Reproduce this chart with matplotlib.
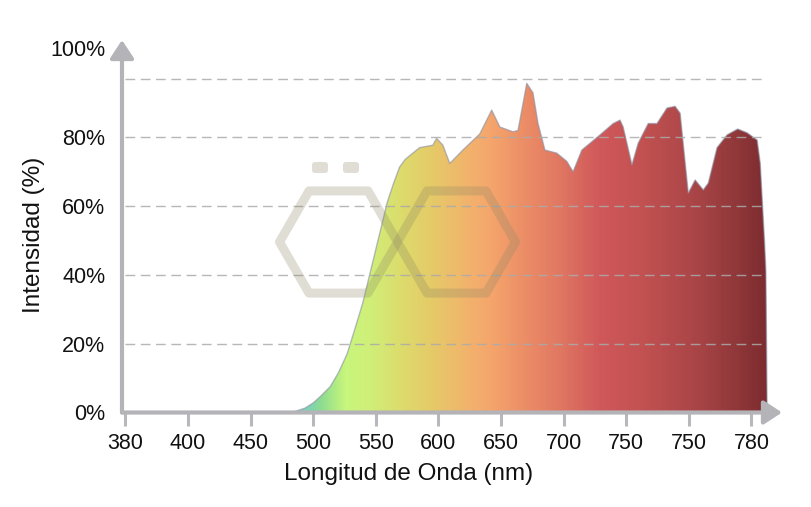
import matplotlib
matplotlib.use('Agg')
import matplotlib.pyplot as plt
import numpy as np
from matplotlib.colors import LinearSegmentedColormap
from matplotlib.patches import Polygon, FancyBboxPatch

plt.rcParams['font.family'] = ['Liberation Sans', 'DejaVu Sans']

# tick labels as printed on the chart (evenly spaced positions 0..10)
x_labels = ['380', '400', '450', '500', '550', '600', '650', '700', '750', '750', '780']
y_ticks = [0, 20, 40, 60, 80]
y_labels = ['0%', '20%', '40%', '60%', '80%']
grid_levels = [20, 40, 60, 80, 97]

# spectrum, position along the axis (in tick units) and intensity (%)
spec_pos = [2.65, 2.74, 2.87, 3.00, 3.11, 3.27, 3.40, 3.54, 3.66, 3.79,
            3.90, 4.02, 4.18, 4.28, 4.38, 4.47, 4.59,
            4.70, 4.91, 4.97, 5.07, 5.18, 5.39, 5.66, 5.85, 5.98, 6.19,
            6.27, 6.41, 6.51, 6.59, 6.70, 6.89, 7.05, 7.15, 7.29, 7.58,
            7.79, 7.90, 7.95, 8.09, 8.19, 8.35, 8.49, 8.65, 8.78, 8.86,
            8.99, 9.10, 9.23, 9.31, 9.45, 9.61, 9.78, 9.93, 10.09, 10.14,
            10.21, 10.23, 10.25]
spec_int = [0, 0.5, 1.3, 2.8, 4.6, 7.5, 11.5, 17, 24, 31.8,
            40, 49, 61, 66.5, 71.4, 73.6, 75.4,
            77, 77.7, 79.7, 77.7, 72.4, 76.3, 81, 87.9, 83, 81.6,
            82, 95.7, 92.9, 84, 76.3, 75.4, 73, 70, 76.3, 80.7,
            84, 85, 83, 72, 78.3, 84, 84, 88.5, 89, 87,
            63.8, 67.6, 64.7, 66.7, 77, 80.7, 82.4, 81.3, 79.2, 72.4,
            49, 41, 0]

# horizontal colour gradient of the fill
grad_pos = [2.65, 2.95, 3.11, 3.51, 3.91, 4.38, 4.86, 5.50, 5.82, 6.46,
            6.94, 7.58, 8.22, 9.17, 9.81, 10.25]
grad_col = ['#7fd0c4', '#7fd4b0', '#8edc90', '#c8f67c', '#d0ef78', '#dcdc6c',
            '#e5cb68', '#f2b26c', '#f5a66c', '#ea8a66', '#e07862', '#d0585a',
            '#c45252', '#a84446', '#8f3739', '#7d2c30']

AXIS_COL = '#b3b3b8'


def main():
    fig = plt.figure(figsize=(8.12, 5.07), dpi=100)
    W, H = 812, 507
    x0, x1, y0, y1 = 122, 782, 412.5, 40
    ax = fig.add_axes([x0 / W, (H - y0) / H, (x1 - x0) / W, (y0 - y1) / H])
    ppu = 62.6
    ax.set_xlim(-(125.5 - x0) / ppu, (x1 - 125.5) / ppu)
    ax.set_ylim(0, (y0 - y1) / 3.44)

    for s in ax.spines.values():
        s.set_visible(False)

    # gradient fill clipped to the spectrum
    lo, hi = grad_pos[0], grad_pos[-1]
    stops = [((p - lo) / (hi - lo), c) for p, c in zip(grad_pos, grad_col)]
    cmap = LinearSegmentedColormap.from_list('spec', stops)
    grad = np.linspace(0, 1, 600).reshape(1, -1)
    im = ax.imshow(grad, cmap=cmap, extent=[lo, hi, 0, 100], aspect='auto',
                   origin='lower', zorder=1, interpolation='bilinear')
    verts = list(zip(spec_pos, spec_int))
    patch = Polygon(verts, closed=True, facecolor='none', edgecolor='none')
    ax.add_patch(patch)
    im.set_clip_path(patch)
    ax.plot(spec_pos, spec_int, color='#8a8ea2', lw=1.0, alpha=0.6, zorder=2,
            solid_joinstyle='round')

    # dashed grid
    ax.hlines(grid_levels, 0, 10.2, colors='#ababab', linestyles=(0, (7, 4)),
              lw=1.0, zorder=3, alpha=0.85)

    # axes with arrows
    for end in [(1, 0), (0, 1)]:
        ax.annotate('', xy=end, xytext=(0, 0), xycoords='axes fraction',
                    arrowprops=dict(arrowstyle='-|>,head_length=0.55,head_width=0.36',
                                    color=AXIS_COL, lw=3, mutation_scale=20,
                                    shrinkA=0, shrinkB=0), zorder=4)

    ax.set_xticks(range(len(x_labels)))
    ax.set_xticklabels(x_labels)
    ax.tick_params(axis='x', length=9, width=2.2, color='#b8b8bc', pad=6,
                   labelsize=15.5, labelcolor='#111111')
    ax.set_yticks(y_ticks + [106])
    ax.set_yticklabels(y_labels + ['100%'])
    ax.tick_params(axis='y', length=0, pad=12, labelsize=15.5, labelcolor='#111111')

    fig.text(409 / W, 1 - 474 / H, 'Longitud de Onda (nm)', ha='center', va='center',
             fontsize=17.5, color='#111111')
    fig.text(34 / W, 1 - 235 / H, 'Intensidad (%)', ha='center', va='center',
             rotation=90, fontsize=17.5, color='#111111')

    # watermark logo
    wm = fig.add_axes([0, 0, 1, 1], zorder=5)
    wm.set_xlim(0, W)
    wm.set_ylim(H, 0)
    wm.axis('off')
    wm_col = (0.55, 0.53, 0.40, 0.28)
    R = 59
    ang = np.deg2rad(np.arange(0, 360, 60))
    for cx in [338.5, 338.5 + 2 * R]:
        hx = cx + R * np.cos(ang)
        hy = 242 + R * np.sin(ang)
        wm.add_patch(Polygon(list(zip(hx, hy)), closed=True, facecolor='none',
                             edgecolor=wm_col, lw=6.5, joinstyle='round'))
    for dx in [312, 343]:
        wm.add_patch(FancyBboxPatch((dx, 162), 16, 11, boxstyle='round,pad=0,rounding_size=3',
                                    facecolor=wm_col, edgecolor='none'))

    fig.savefig('out.png', dpi=100)


if __name__ == '__main__':
    main()
